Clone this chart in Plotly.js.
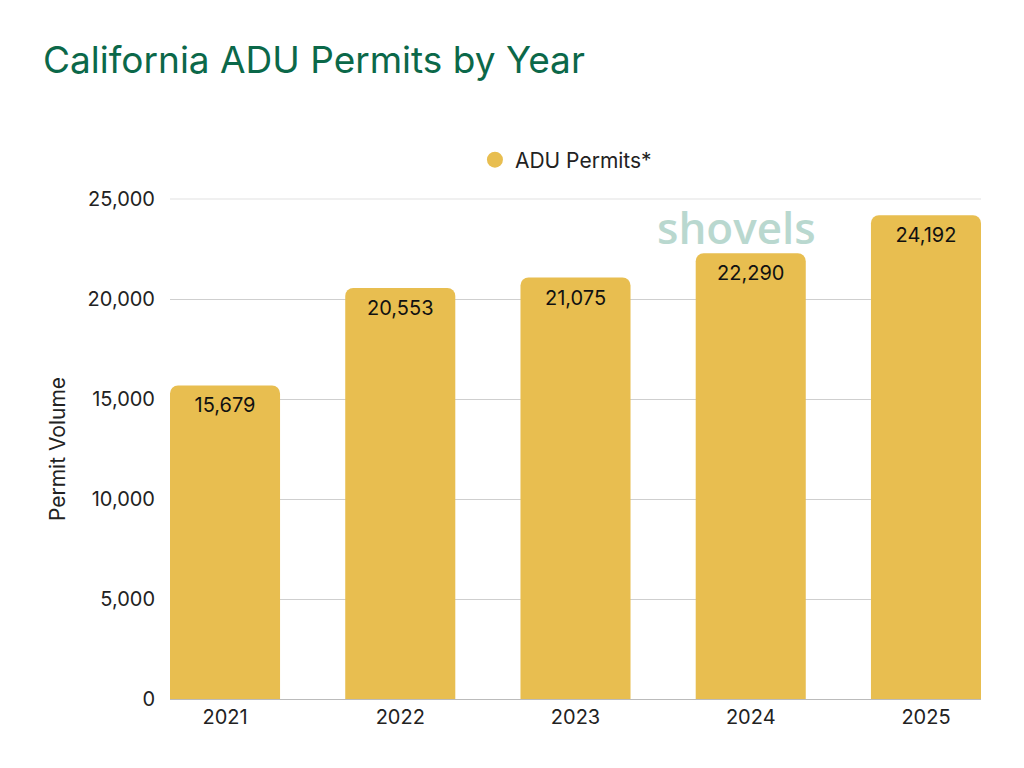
<!DOCTYPE html>
<html>
<head>
<meta charset="utf-8">
<script src="https://cdn.plot.ly/plotly-3.0.1.min.js"></script>
<style>
  body { margin: 0; background: #fff; }
  #chart { width: 1024px; height: 768px; }
</style>
</head>
<body>
<div id="chart"></div>
<script>
const years = ['2021', '2022', '2023', '2024', '2025'];
const permits = [15679, 20553, 21075, 22290, 24192];
const seriesName = 'ADU Permits*';

const barColor = '#E8BE50';
const fontFamily = 'Inter, "Open Sans", sans-serif';

const bars = {
  x: years,
  y: permits,
  type: 'bar',
  name: seriesName,
  showlegend: false,
  width: 0.628,
  marker: { color: barColor, cornerradius: 8 },
  text: permits.map((v) => v.toLocaleString('en-US')),
  textposition: 'inside',
  insidetextanchor: 'end',
  textfont: { color: '#111', size: 20, family: fontFamily },
  hoverinfo: 'x+y',
};

// legend-only entry so the key shows a round dot
const legendDot = {
  x: [null],
  y: [null],
  type: 'scatter',
  mode: 'markers',
  name: seriesName,
  marker: { color: barColor, size: 22, symbol: 'circle' },
};

const layout = {
  width: 1024,
  height: 768,
  paper_bgcolor: '#fff',
  plot_bgcolor: '#fff',
  margin: { l: 170, r: 43, t: 199, b: 69 },
  font: { family: fontFamily, color: '#222', size: 20 },
  title: {
    text: 'California ADU Permits by Year',
    font: { size: 37, color: '#0B6849', family: fontFamily, weight: 400 },
    x: 0.042, xanchor: 'left', xref: 'container',
    y: 0.922, yanchor: 'middle', yref: 'container',
  },
  showlegend: true,
  legend: {
    orientation: 'h',
    x: 0.376, xanchor: 'left',
    y: 1.078, yanchor: 'middle',
    font: { size: 21, color: '#222' },
  },
  xaxis: {
    type: 'category',
    range: [-0.314, 4.314],
    showgrid: false,
    showline: true,
    linecolor: '#bbb',
    linewidth: 1,
    ticks: '',
    tickfont: { size: 20, color: '#222' },
  },
  yaxis: {
    range: [0, 25000],
    tickvals: [0, 5000, 10000, 15000, 20000, 25000],
    tickformat: ',d',
    gridcolor: '#cfcfcf',
    zeroline: false,
    ticks: '',
    ticklabelstandoff: 14,
    tickfont: { size: 20, color: '#222' },
    title: { text: 'Permit Volume', font: { size: 21, color: '#222' }, standoff: 16 },
  },
  shapes: [{
    type: 'line', xref: 'paper', yref: 'paper',
    x0: 0, x1: 1, y0: 1, y1: 1,
    line: { color: '#ebebeb', width: 1.5 },
    layer: 'below',
  }],
  annotations: [{
    text: 'shovels',
    xref: 'paper', yref: 'paper',
    x: 0.698, y: 0.945,
    xanchor: 'center', yanchor: 'middle',
    showarrow: false,
    font: { size: 44, color: '#B9D8CF', family: '"Open Sans", sans-serif', weight: 600 },
  }],
};

Plotly.newPlot('chart', [bars, legendDot], layout, { displayModeBar: false });
</script>
</body>
</html>
